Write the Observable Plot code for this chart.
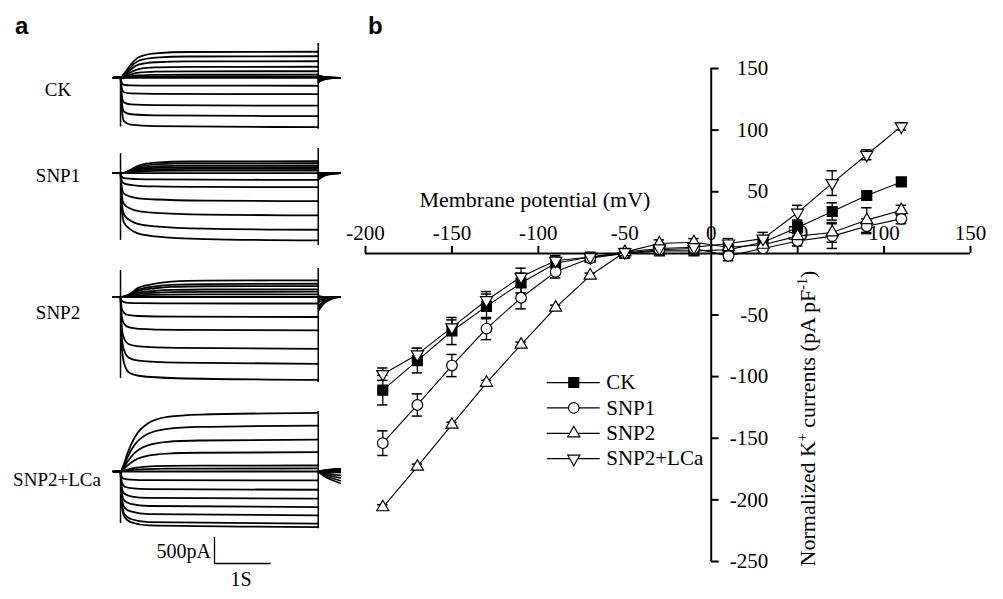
<!DOCTYPE html>
<html><head><meta charset="utf-8">
<script src="https://cdn.jsdelivr.net/npm/d3@7"></script>
<script src="https://cdn.jsdelivr.net/npm/@observablehq/plot@0.6"></script>
<style>
body{margin:0;background:#fff;}
#root{position:relative;width:1003px;height:599px;overflow:hidden;background:#fff;font-family:"Liberation Serif","Times New Roman",serif;color:#000;}
#root svg{position:absolute;overflow:visible;background:transparent;}
.lab{position:absolute;font-size:19px;transform:translate(-50%,-50%);white-space:nowrap;}
.panel{position:absolute;font-family:"Liberation Sans",Arial,sans-serif;font-weight:bold;font-size:24px;line-height:1;}
</style></head><body><div id="root"></div>
<script>
// ---------------- Panel b: I-V data ----------------
const voltages = [-190,-170,-150,-130,-110,-90,-70,-50,-30,-10,10,30,50,70,90,110];
const seriesNames = ["CK","SNP1","SNP2","SNP2+LCa"];
const ckCurrent   = [-111,-87,-63,-43,-24,-8,-3,0,2,2,3,9,21,34,47,58];
const ckSem       = [12,10,11,10,8,6,3,2,2,2,3,4,5,7,3,3];
const snp1Current = [-154,-123,-91,-61,-36,-15,-4,0,3,4,-2,4,10,14,22,28];
const snp1Sem     = [10,9,9,9,9,5,3,2,2,2,4,4,4,10,6,4];
const snp2Current = [-206,-173,-139,-105,-74,-44,-18,1,8,9,5,7,14,17,27,35];
const snp2Sem     = [2,2,2,2,2,2,2,2,3,3,3,3,4,8,10,4];
const lcaCurrent  = [-98,-82,-60,-38,-19,-6,-3,1,4,5,8,12,33,57,80,103];
const lcaSem      = [5,5,6,7,7,4,3,2,3,3,4,5,6,10,4,3];
const xTicks = [-200,-150,-100,-50,0,50,100,150];
const yTicks = [150,100,50,-50,-100,-150,-200,-250];

// ---------------- Panel a: current traces ----------------
const traceGroups = ["CK","SNP1","SNP2","SNP2+LCa"];
// steady-state current of each trace (pA)
const ckTraceLevels   = [500,413,317,211,125,58,19,0,-154,-317,-538,-739,-950];
const snp1TraceLevels = [230,192,148,115,84,52,0,-127,-269,-538,-812,-1087,-1292];
const snp2TraceLevels = [321,255,211,148,102,52,0,-125,-384,-643,-998,-1286,-1594];
const lcaTraceLevels  = [1127,883,614,371,115,58,0,-173,-351,-524,-685,-845,-1004,-1069];
// time course (s) and fraction of steady-state, outward / inward
const ckOutT = [0,0.06,0.18,0.32,0.62,1.2,3.5],        ckOutF = [0,0.15,0.5,0.79,0.94,0.99,1];
const ckInT  = [0,0.02,0.06,0.18,0.6,3.5],             ckInF  = [0,0.6,0.88,0.95,0.98,1];
const snp1OutT = [0,0.08,0.15,0.32,0.62,1.2,3.5],      snp1OutF = [0,0.06,0.22,0.64,0.89,0.98,1];
const snp1InT  = [0,0.02,0.06,0.18,0.32,0.62,1.5,3.5], snp1InF  = [0,0.5,0.73,0.84,0.9,0.94,0.98,1];
const snp2OutT = [0,0.08,0.15,0.32,0.62,0.9,1.5,3.5],  snp2OutF = [0,0.05,0.16,0.56,0.8,0.92,0.98,1];
const snp2InT  = [0,0.02,0.06,0.15,0.32,1.0,3.5],      snp2InF  = [0,0.58,0.79,0.91,0.95,0.98,1];
const lcaOutT = [0,0.05,0.12,0.25,0.47,0.83,1.4,3.5],  lcaOutF = [0,0.1,0.3,0.58,0.81,0.93,0.97,1];
const lcaInT  = [0,0.02,0.07,0.18,0.5,3.5],            lcaInF  = [0,0.58,0.82,0.91,0.97,1];
// tail currents after the step (fraction of step level)
const tailTimes = [3.5,3.6,3.75,3.89];
const ckTailOut = [0.1,0.04,0.01,0],   ckTailIn = [0.1,0.04,0.01,0];
const snp1TailOut = [0.05,0.01,0,0],   snp1TailIn = [0.1,0.04,0.01,0];
const snp2TailOut = [0.05,0.01,0,0],   snp2TailIn = [0.17,0.08,0.02,0];
const lcaTailOut = [0,-0.08,-0.15,-0.2], lcaTailIn = [0,-0.02,-0.04,-0.05];
// capacitive transients [top, bottom] (pA) at step onset and offset
const ckOnset = [0,-950],   ckOffset = [657,-989];
const snp1Onset = [378,-1292], snp1Offset = [474,-1388];
const snp2Onset = [509,-1565], snp2Offset = [547,-1642];
const lcaOnset = [0,-1000],  lcaOffset = [1152,-1100];
const stepStart = 0, stepEnd = 3.5, holdStart = -0.124;
const scaleBarCurrent = 500, scaleBarTime = 1;

const root = document.getElementById("root");

// ---------- panel a ----------
const pxPerS = 56.5, pxPerPA = 26/500;
const groupDefs = [
  {levels:ckTraceLevels, outT:ckOutT, outF:ckOutF, inT:ckInT, inF:ckInF, tailOut:ckTailOut, tailIn:ckTailIn, on:ckOnset, off:ckOffset},
  {levels:snp1TraceLevels, outT:snp1OutT, outF:snp1OutF, inT:snp1InT, inF:snp1InF, tailOut:snp1TailOut, tailIn:snp1TailIn, on:snp1Onset, off:snp1Offset},
  {levels:snp2TraceLevels, outT:snp2OutT, outF:snp2OutF, inT:snp2InT, inF:snp2InF, tailOut:snp2TailOut, tailIn:snp2TailIn, on:snp2Onset, off:snp2Offset},
  {levels:lcaTraceLevels, outT:lcaOutT, outF:lcaOutF, inT:lcaInT, inF:lcaInF, tailOut:lcaTailOut, tailIn:lcaTailIn, on:lcaOnset, off:lcaOffset}
];
const groupBaseY = [77.5, 172.7, 296.5, 471];
const groupLabelPos = [[58,90],[58,176],[58,313],[57,480]];
const xLeftPage = 113;

groupDefs.forEach((g, gi) => {
  const rows = [], tails = [];
  g.levels.forEach((L, k) => {
    const T = L >= 0 ? g.outT : g.inT, F = L >= 0 ? g.outF : g.inF;
    rows.push({id:k, t:holdStart, a:0});
    T.forEach((t, j) => rows.push({id:k, t, a:L*F[j]}));
    const TF = L >= 0 ? g.tailOut : g.tailIn;
    tailTimes.forEach((t, j) => tails.push({id:k, t, a:L*TF[j]}));
  });
  const top = g.off[0] + 40, bot = g.off[1] - 40;
  const h = (top - bot) * pxPerPA;
  const w = (tailTimes[tailTimes.length-1] - holdStart) * pxPerS;
  const svg = Plot.plot({
    width: w + 10, height: h, marginLeft: 5, marginRight: 5, marginTop: 0, marginBottom: 0,
    x: {domain: [holdStart, tailTimes[tailTimes.length-1]], axis: null},
    y: {domain: [bot, top], axis: null},
    style: {background: "transparent", overflow: "visible"},
    marks: [
      Plot.ruleX([stepStart], {y1: g.on[1], y2: g.on[0], stroke: "black", strokeWidth: 1.5}),
      Plot.ruleX([stepEnd], {y1: g.off[1], y2: g.off[0], stroke: "black", strokeWidth: 1.5}),
      Plot.line(rows, {x: "t", y: "a", z: "id", curve: "monotone-x", stroke: "black", strokeWidth: 1.8}),
      Plot.line(tails, {x: "t", y: "a", z: "id", curve: "monotone-x", stroke: "black", strokeWidth: 1.6})
    ]
  });
  svg.style.left = (xLeftPage - 5) + "px";
  svg.style.top = (groupBaseY[gi] - top * pxPerPA) + "px";
  root.appendChild(svg);
  const lab = document.createElement("div");
  lab.className = "lab";
  lab.textContent = traceGroups[gi];
  lab.style.left = groupLabelPos[gi][0] + "px";
  lab.style.top = groupLabelPos[gi][1] + "px";
  root.appendChild(lab);
});

// scale bar
{
  const svg = Plot.plot({
    width: scaleBarTime*pxPerS + 10, height: scaleBarCurrent*pxPerPA + 10,
    marginLeft: 5, marginRight: 5, marginTop: 5, marginBottom: 5,
    x: {domain: [0, scaleBarTime], axis: null}, y: {domain: [0, scaleBarCurrent], axis: null},
    style: {background: "transparent"},
    marks: [
      Plot.ruleX([0], {y1: 0, y2: scaleBarCurrent, stroke: "black", strokeWidth: 1.3}),
      Plot.ruleY([0], {x1: 0, x2: scaleBarTime, stroke: "black", strokeWidth: 1.3})
    ]
  });
  svg.style.left = (214 - 5) + "px";
  svg.style.top = (563 - scaleBarCurrent*pxPerPA - 5) + "px";
  root.appendChild(svg);
  const l1 = document.createElement("div");
  l1.style.cssText = "position:absolute;font-size:20px;right:" + (1003-211) + "px;top:540px;";
  l1.textContent = scaleBarCurrent + "pA";
  root.appendChild(l1);
  const l2 = document.createElement("div");
  l2.className = "lab"; l2.style.fontSize = "20px";
  l2.textContent = scaleBarTime + "S";
  l2.style.left = "241px"; l2.style.top = "579px";
  root.appendChild(l2);
}

// ---------- panel b ----------
const currents = [ckCurrent, snp1Current, snp2Current, lcaCurrent];
const sems = [ckSem, snp1Sem, snp2Sem, lcaSem];
const ivRows = [];
seriesNames.forEach((s, i) => voltages.forEach((v, j) => ivRows.push({series: s, v, i: currents[i][j], e: sems[i][j]})));
const capRows = ivRows.flatMap(d => [{v: d.v, y: d.i + d.e}, {v: d.v, y: d.i - d.e}]);
const symbolSpec = [
  {symbol: "square", r: 5.6, fill: "black", rotate: 0},
  {symbol: "circle", r: 5.3, fill: "white", rotate: 0},
  {symbol: "triangle", r: 4.5, fill: "white", rotate: 0},
  {symbol: "triangle", r: 4.5, fill: "white", rotate: 180}
];
const legendX1 = -94.8, legendX2 = -64.2, legendY0 = -104.8, legendStep = 20.6;
const legendRows = seriesNames.map((s, i) => ({series: s, y: legendY0 - i*legendStep}));

const dotMarks = [];
seriesNames.forEach((s, i) => {
  const sp = symbolSpec[i];
  dotMarks.push(Plot.dot(ivRows.filter(d => d.series === s), {x: "v", y: "i", symbol: sp.symbol, r: sp.r, fill: sp.fill, stroke: "black", strokeWidth: 1.2, rotate: sp.rotate}));
  dotMarks.push(Plot.dot([legendRows[i]], {x: (legendX1 + legendX2)/2, y: "y", symbol: sp.symbol, r: sp.r, fill: sp.fill, stroke: "black", strokeWidth: 1.2, rotate: sp.rotate}));
});

const bSvg = Plot.plot({
  width: 663, height: 569, marginLeft: 25, marginRight: 33, marginTop: 38, marginBottom: 38,
  x: {domain: [-200, 150], axis: null},
  y: {domain: [-250, 150], axis: null},
  style: {background: "transparent", fontFamily: "'Liberation Serif', 'Times New Roman', serif", color: "black"},
  marks: [
    Plot.ruleY([0], {x1: -200, x2: 150, stroke: "black", strokeWidth: 2}),
    Plot.ruleX([0], {y1: -250, y2: 150, stroke: "black", strokeWidth: 2}),
    Plot.ruleX(xTicks, {x: d => d, y1: 0, y2: 5.7, stroke: "black", strokeWidth: 2}),
    Plot.ruleY(yTicks, {y: d => d, x1: 0, x2: 4.6, stroke: "black", strokeWidth: 2}),
    Plot.text(xTicks, {x: d => d, y: 0, text: d => String(d), dy: -20, fontSize: 21, fill: "black"}),
    Plot.text(yTicks, {x: 0, y: d => d, text: d => String(d), textAnchor: "end", dx: 57, fontSize: 21, fill: "black"}),
    Plot.text(["Membrane potential (mV)"], {x: -102, y: 43, text: d => d, fontSize: 22, fill: "black"}),
    Plot.text(["YTITLE"], {x: 56, y: -134, text: d => d, rotate: -90, fontSize: 22, fill: "black"}),
    Plot.line(ivRows, {x: "v", y: "i", z: "series", stroke: "black", strokeWidth: 1.1}),
    Plot.ruleX(ivRows, {x: "v", y1: d => d.i - d.e, y2: d => d.i + d.e, stroke: "black", strokeWidth: 1.3}),
    Plot.ruleY(capRows, {y: "y", x1: d => d.v - 3, x2: d => d.v + 3, stroke: "black", strokeWidth: 1.5}),
    Plot.ruleY(legendRows, {y: "y", x1: legendX1, x2: legendX2, stroke: "black", strokeWidth: 1.2}),
    ...dotMarks,
    Plot.text(legendRows, {x: legendX2, y: "y", text: "series", dx: 6, textAnchor: "start", fontSize: 21, fill: "black"})
  ]
});
bSvg.style.left = "340px";
bSvg.style.top = "30px";
root.appendChild(bSvg);

// superscripts in y title
bSvg.querySelectorAll("text").forEach(t => {
  if (t.textContent === "YTITLE") {
    t.textContent = "";
    const parts = [["Normalized K", 0, null], ["+", -8, "14px"], [" currents (pA pF", 8, null], ["-1", -8, "14px"], [")", 8, null]];
    parts.forEach(([s, dy, fs]) => {
      const sp = document.createElementNS("http://www.w3.org/2000/svg", "tspan");
      sp.textContent = s;
      if (dy) sp.setAttribute("dy", dy);
      if (fs) sp.setAttribute("font-size", fs);
      t.appendChild(sp);
    });
  }
});

// panel letters
[["a", 15, 14], ["b", 368, 14]].forEach(([s, x, y]) => {
  const d = document.createElement("div");
  d.className = "panel"; d.textContent = s;
  d.style.left = x + "px"; d.style.top = y + "px";
  root.appendChild(d);
});
</script>
</body></html>
